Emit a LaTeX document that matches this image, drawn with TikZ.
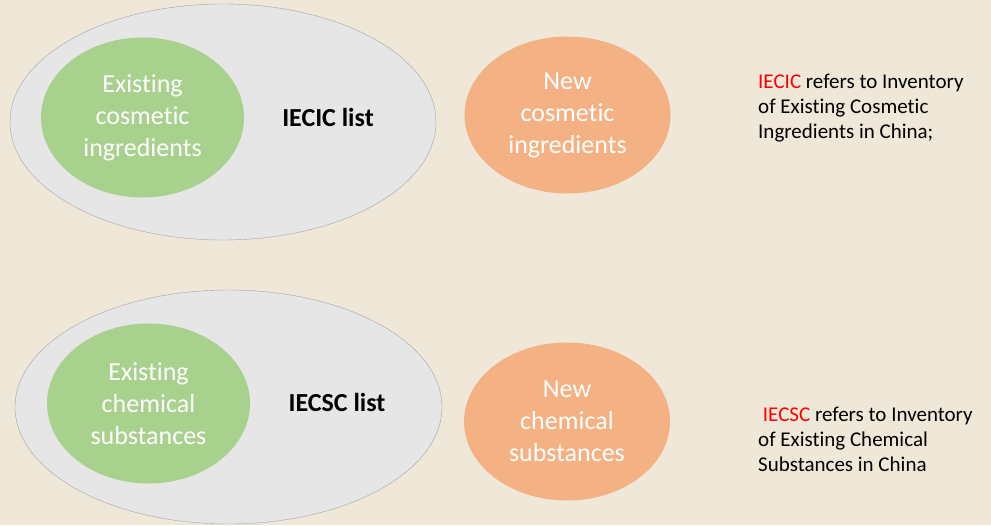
\documentclass[tikz,border=0pt]{standalone}
\usepackage{fontspec}
\setmainfont{Carlito}[Ligatures=NoCommon]
\usetikzlibrary{shapes.geometric,positioning}
\usepackage{xcolor}

\definecolor{paper}{HTML}{EFE7D7}
\definecolor{listgray}{HTML}{E6E6E6}
\definecolor{listline}{HTML}{A6A6A6}
\definecolor{oldgreen}{HTML}{A9D18E}
\definecolor{neworange}{HTML}{F4B183}

\begin{document}
\begin{tikzpicture}[x=1pt, y=-1pt,
        listbox/.style={ellipse, draw=listline, fill=listgray, inner sep=0pt},
        oldbox/.style={ellipse, fill=oldgreen, inner sep=0pt,
            minimum width=203pt, minimum height=160pt,
            text=white, align=center, font=\fontsize{26}{32}\selectfont},
        newbox/.style={ellipse, fill=neworange, inner sep=0pt,
            minimum width=206pt, minimum height=157pt,
            text=white, align=center, font=\fontsize{26}{32}\selectfont},
        listname/.style={font=\fontsize{26}{30}\selectfont\bfseries},
        note/.style={anchor=north west, inner sep=0pt, align=left,
            font=\fontsize{21}{25}\selectfont}
    ]
        \fill[paper] (0,0) rectangle (991,525);
        \useasboundingbox (0,0) rectangle (991,525);

        % IECIC
        \node (1) [
            listbox,
            minimum width=426pt,
            minimum height=236pt
        ] at (223,122) {};
        \node (2) [oldbox] at (142.5,117.5)
        {
            Existing\\
            cosmetic\\
            ingredients
        };
        \node (3) [listname] at (328,117) {IECIC list};
        \node (4) [newbox] at (567.5,115)
        {
            New\\
            cosmetic\\
            ingredients
        };
        \node (5) [note] at (758,74)
        {
            \textcolor{red}{IECIC} refers to Inventory\\
            of Existing Cosmetic\\
            Ingredients in China;
        };

        % IECSC
        \node (6) [
            listbox,
            minimum width=427pt,
            minimum height=234pt
        ] at (228.5,407) {};
        \node (7) [oldbox] at (148.5,403.5)
        {
            Existing\\
            chemical\\
            substances
        };
        \node (8) [listname] at (337,402) {IECSC list};
        \node (9) [newbox, minimum width=206pt, minimum height=158pt] at (567,421.5)
        {
            New\\
            chemical\\
            substances
        };
        \node (10) [note] at (758,407)
        {
            \ \textcolor{red}{IECSC} refers to Inventory\\
            of Existing Chemical\\
            Substances in China
        };
    \end{tikzpicture}
\end{document}
